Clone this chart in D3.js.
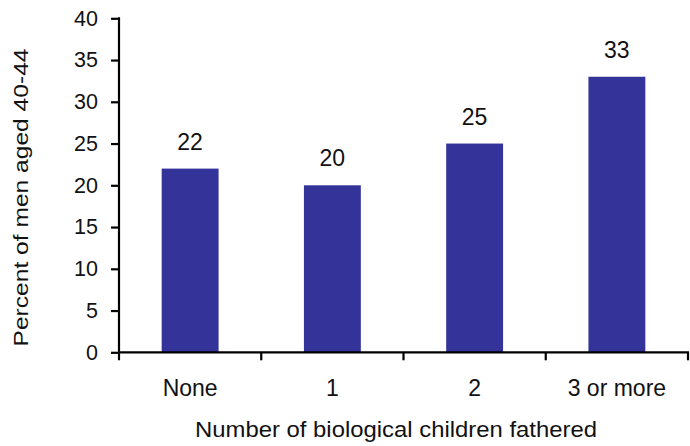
<!DOCTYPE html>
<html>
<head>
<meta charset="utf-8">
<script src="https://cdn.jsdelivr.net/npm/d3@7/dist/d3.min.js"></script>
<style>
  html, body { margin: 0; padding: 0; background: #fff; }
  svg { display: block; font-family: "Liberation Sans", Arial, sans-serif; }
</style>
</head>
<body>
<svg id="chart" width="690" height="446"></svg>
<script>
// Share of men aged 40-44 by number of biological children fathered
const categories = ["None", "1", "2", "3 or more"];
const percents = [22, 20, 25, 33];
const yTicks = [0, 5, 10, 15, 20, 25, 30, 35, 40];
const xTitle = "Number of biological children fathered";
const yTitle = "Percent of men aged 40-44";

const svg = d3.select("#chart");
const plotLeft = 119, plotRight = 688, plotTop = 18.3, plotBottom = 352.3;
const barColor = "#333399";
const fontFamily = "'Liberation Sans', Arial, sans-serif";

const x = d3.scaleBand()
  .domain(categories)
  .range([plotLeft, plotRight])
  .paddingInner(0.6)
  .paddingOuter(0.3);

const y = d3.scaleLinear()
  .domain([0, 40])
  .range([plotBottom, plotTop]);

// Bars
svg.append("g")
  .selectAll("rect")
  .data(categories)
  .join("rect")
  .attr("x", d => x(d))
  .attr("width", x.bandwidth())
  .attr("y", (d, i) => y(percents[i]))
  .attr("height", (d, i) => y(0) - y(percents[i]))
  .attr("fill", barColor);

// Value labels above bars
svg.append("g")
  .selectAll("text")
  .data(categories)
  .join("text")
  .attr("x", d => x(d) + x.bandwidth() / 2)
  .attr("y", (d, i) => y(percents[i]) - 19)
  .attr("text-anchor", "middle")
  .attr("font-size", 23)
  .attr("fill", "#111")
  .text((d, i) => percents[i]);

// Y axis
const yAxis = svg.append("g")
  .attr("transform", `translate(${plotLeft},0)`)
  .call(d3.axisLeft(y).tickValues(yTicks).tickSize(8).tickSizeOuter(0).tickPadding(13));
yAxis.select(".domain").attr("stroke", "#000").attr("stroke-width", 2.2)
  .attr("d", `M0,${y(40) - 1}V${plotBottom + 8}`);
yAxis.selectAll(".tick line").attr("stroke", "#000").attr("stroke-width", 2.2);
yAxis.selectAll(".tick text")
  .attr("font-size", 21.5)
  .attr("font-family", fontFamily)
  .attr("fill", "#111");

// X axis: category labels centred on bands, tick marks on band boundaries
const xAxis = svg.append("g")
  .attr("transform", `translate(0,${plotBottom})`)
  .call(d3.axisBottom(x).tickSize(0).tickPadding(28));
xAxis.select(".domain").remove();
xAxis.selectAll(".tick text")
  .attr("font-size", 23)
  .attr("font-family", fontFamily)
  .attr("fill", "#111")
  .attr("dy", "0.7em");

svg.append("line")
  .attr("x1", plotLeft - 1).attr("x2", plotRight + 1)
  .attr("y1", plotBottom).attr("y2", plotBottom)
  .attr("stroke", "#000").attr("stroke-width", 2.2);

const boundaries = categories.map(d => x(d) + x.bandwidth() / 2 + x.step() / 2);
svg.append("g")
  .selectAll("line")
  .data(boundaries)
  .join("line")
  .attr("x1", d => d).attr("x2", d => d)
  .attr("y1", plotBottom).attr("y2", plotBottom + 8)
  .attr("stroke", "#000").attr("stroke-width", 2.2);

// Axis titles
svg.append("text")
  .attr("x", 396)
  .attr("y", 437)
  .attr("text-anchor", "middle")
  .attr("font-size", 22.5)
  .attr("fill", "#111")
  .attr("textLength", 402)
  .attr("lengthAdjust", "spacingAndGlyphs")
  .text(xTitle);

svg.append("text")
  .attr("transform", "translate(28,197.5) rotate(-90)")
  .attr("text-anchor", "middle")
  .attr("font-size", 21)
  .attr("fill", "#111")
  .attr("textLength", 298)
  .attr("lengthAdjust", "spacingAndGlyphs")
  .text(yTitle);
</script>
</body>
</html>
